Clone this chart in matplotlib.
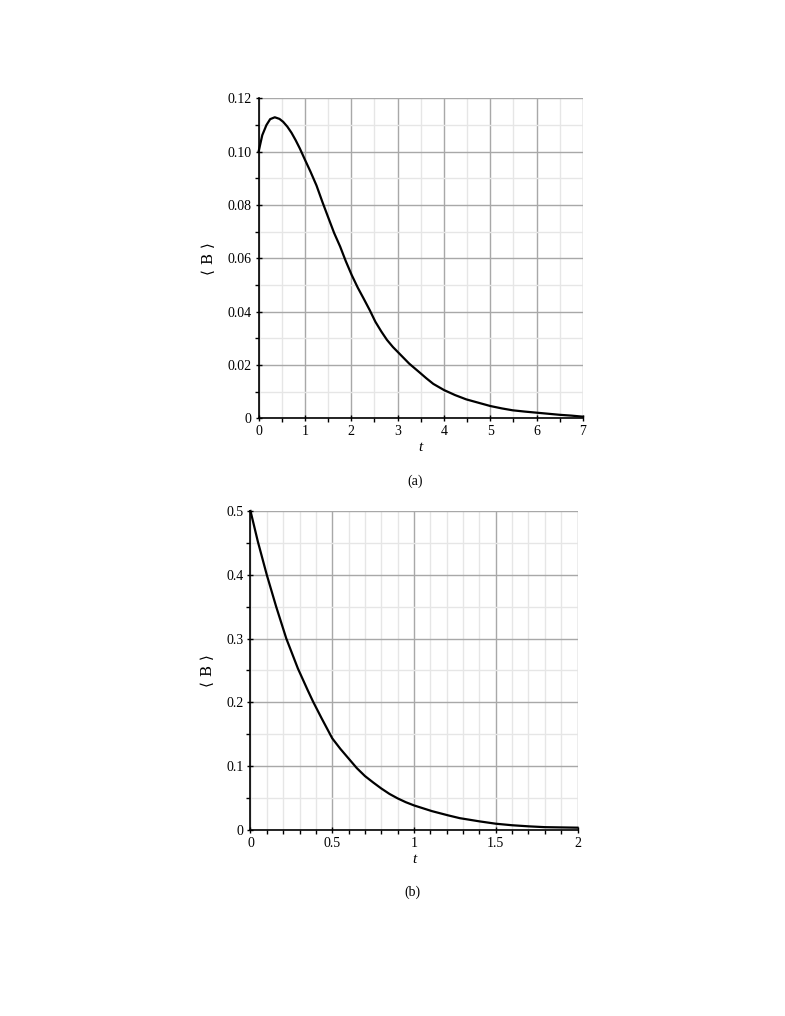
import matplotlib.pyplot as plt
from matplotlib.ticker import MultipleLocator, FuncFormatter

# panel (a)
t_a = [0, 0.08, 0.17, 0.25, 0.35, 0.45, 0.53, 0.62, 0.71, 0.8, 0.89, 1.0, 1.12, 1.25,
       1.38, 1.51, 1.63, 1.76, 1.88, 2.01, 2.14, 2.27, 2.4, 2.52, 2.65, 2.77, 2.9,
       3.03, 3.25, 3.48, 3.62, 3.77, 4.0, 4.24, 4.48, 4.75, 5.0, 5.25, 5.48, 5.75,
       6.0, 6.25, 6.5, 6.75, 7.0]
b_a = [0.100, 0.1062, 0.110, 0.1122, 0.1129, 0.1123, 0.1112, 0.1094, 0.1071, 0.1043,
       0.1012, 0.097, 0.0925, 0.0873, 0.081, 0.075, 0.0695, 0.0644, 0.059, 0.0537,
       0.049, 0.0448, 0.0405, 0.0362, 0.0325, 0.0294, 0.0267, 0.0244, 0.0205, 0.0171,
       0.015, 0.0129, 0.0106, 0.0087, 0.0071, 0.0058, 0.0046, 0.0037, 0.003,
       0.0025, 0.0021, 0.0017, 0.0013, 0.001, 0.0006]

# panel (b)
t_b = [0, 0.045, 0.1, 0.157, 0.219, 0.29, 0.35, 0.383, 0.435, 0.5, 0.55, 0.6, 0.65,
       0.7, 0.75, 0.8, 0.85, 0.9, 0.95, 1.0, 1.11, 1.21, 1.28, 1.4, 1.5, 1.6, 1.7,
       1.8, 2.0]
b_b = [0.5, 0.452, 0.3995, 0.350, 0.300, 0.253, 0.219, 0.201, 0.175, 0.1436, 0.127,
       0.112, 0.097, 0.0845, 0.0745, 0.065, 0.0565, 0.0495, 0.0435, 0.0385, 0.0295,
       0.0228, 0.0185, 0.0135, 0.0098, 0.0074, 0.0057, 0.0044, 0.0036]

plt.rcParams['font.family'] = ['Liberation Serif', 'DejaVu Serif']
plt.rcParams['font.size'] = 10

fig = plt.figure(figsize=(7.85, 10.16), dpi=100)


def fmt(v, pos):
    if abs(v) < 1e-12:
        return '0'
    return ('%g' % v)


def setup(ax, xmaj, xmin, ymaj, ymin, xlim, ylim, yfmt):
    ax.set_xlim(*xlim)
    ax.set_ylim(*ylim)
    ax.xaxis.set_major_locator(MultipleLocator(xmaj))
    ax.xaxis.set_minor_locator(MultipleLocator(xmin))
    ax.yaxis.set_major_locator(MultipleLocator(ymaj))
    ax.yaxis.set_minor_locator(MultipleLocator(ymin))
    ax.xaxis.set_major_formatter(FuncFormatter(fmt))
    ax.yaxis.set_major_formatter(FuncFormatter(yfmt))
    ax.grid(which='major', color='#a8a8a8', lw=1.0)
    ax.grid(which='minor', color='#e6e6e6', lw=1.0)
    ax.set_axisbelow(True)
    ax.spines['top'].set_visible(False)
    ax.spines['right'].set_visible(False)
    ax.spines['left'].set_linewidth(1.2)
    ax.spines['bottom'].set_linewidth(1.2)
    ax.tick_params(which='major', length=4, width=1, direction='inout', labelsize=10, pad=3)
    ax.tick_params(which='minor', length=3, width=1, direction='out')
    ax.tick_params(top=False, right=False, which='both')
    ax.set_xlabel('t', fontsize=11, style='italic', labelpad=2)
    ax.set_ylabel('⟨ B ⟩', fontsize=11, labelpad=8, family=['DejaVu Serif'])


ax1 = fig.add_axes([0.3294, 0.5883, 0.4133, 0.3149])
setup(ax1, 1, 0.5, 0.02, 0.01, (0, 7), (0, 0.12),
      lambda v, p: '0' if abs(v) < 1e-12 else '%.2f' % v)
ax1.plot(t_a, b_a, color='black', lw=1.6, clip_on=False)
fig.text(0.5285, 1 - 481 / 1016, '(a)', ha='center', va='center', fontsize=10)

ax2 = fig.add_axes([0.3191, 0.1831, 0.4166, 0.3140])
setup(ax2, 0.5, 0.1, 0.1, 0.05, (0, 2), (0, 0.5), fmt)
ax2.plot(t_b, b_b, color='black', lw=1.6, clip_on=False)
fig.text(0.526, 1 - 892 / 1016, '(b)', ha='center', va='center', fontsize=10)

fig.savefig('out.png', dpi=100)
